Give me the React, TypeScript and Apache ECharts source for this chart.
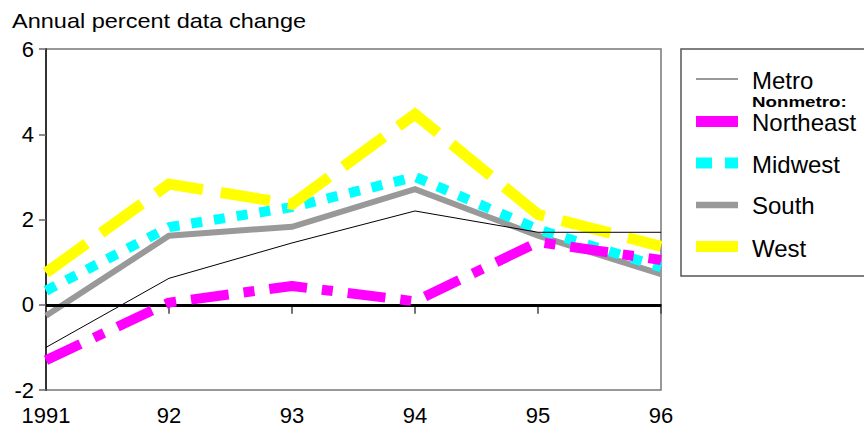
import React, { useEffect, useRef } from "react";
import * as echarts from "echarts";

const years = ["1991", "92", "93", "94", "95", "96"];
const metro = [-1.0, 0.62, 1.45, 2.2, 1.7, 1.7];
const northeast = [-1.3, 0.05, 0.44, 0.08, 1.47, 1.05];
const midwest = [0.33, 1.82, 2.29, 3.0, 1.77, 0.88];
const south = [-0.26, 1.62, 1.83, 2.71, 1.62, 0.72];
const west = [0.75, 2.83, 2.36, 4.47, 2.12, 1.37];
const yTicks = { min: -2, max: 6, interval: 2 };

const FONT = "Liberation Sans, Arial, sans-serif";

export default function App() {
  const ref = useRef<HTMLDivElement>(null);
  useEffect(() => {
    if (!ref.current) return;
    const chart = echarts.init(ref.current, null, { renderer: "svg" });
    const lx1 = 696, lx2 = 738, tx = 752;
    const legendItems = [
      { name: "Metro", y: 79, ty: 80, color: "#777", width: 1.5, dash: undefined as any },
      { name: "Northeast", y: 121.5, ty: 122, color: "#ff00ff", width: 11, dash: undefined },
      { name: "Midwest", y: 163, ty: 164, color: "#00ffff", width: 11, dash: [16, 13] },
      { name: "South", y: 205, ty: 205.5, color: "#999999", width: 6.5, dash: undefined },
      { name: "West", y: 246.5, ty: 248, color: "#ffff00", width: 11, dash: undefined },
    ];
    const graphics: any[] = [
      {
        type: "text",
        x: 12,
        y: 21,
        scaleX: 1.12,
        style: { text: "Annual percent data change", font: `21px ${FONT}`, fill: "#000", verticalAlign: "middle" },
      },
      {
        type: "rect",
        shape: { x: 681, y: 49, width: 200, height: 227 },
        style: { fill: "none", stroke: "#555", lineWidth: 1.5 },
      },
      {
        type: "text",
        x: tx,
        y: 102.5,
        scaleX: 1.25,
        style: { text: "Nonmetro:", font: `bold 15px ${FONT}`, fill: "#000", verticalAlign: "middle" },
      },
    ];
    legendItems.forEach((it) => {
      graphics.push({
        type: "line",
        shape: { x1: lx1, y1: it.y, x2: lx2, y2: it.y },
        style: { stroke: it.color, lineWidth: it.width, lineDash: it.dash, lineCap: "butt" },
      });
      graphics.push({
        type: "text",
        x: tx,
        y: it.ty,
        style: { text: it.name, font: `24px ${FONT}`, fill: "#000", verticalAlign: "middle" },
      });
    });

    chart.setOption({
      animation: false,
      backgroundColor: "#fff",
      grid: { left: 46, right: 203, top: 49, bottom: 37, show: true, borderColor: "#777", borderWidth: 1.5 },
      xAxis: {
        type: "category",
        data: years,
        boundaryGap: false,
        axisLine: { lineStyle: { color: "#333", width: 2 } },
        axisTick: { show: true, length: 9, lineStyle: { color: "#444", width: 1.5 } },
        axisLabel: { color: "#000", fontSize: 22, fontFamily: FONT, margin: 14 },
        splitLine: { show: false },
      },
      yAxis: {
        type: "value",
        min: yTicks.min,
        max: yTicks.max,
        interval: yTicks.interval,
        axisLine: { show: true, lineStyle: { color: "#333", width: 2 } },
        axisTick: { show: true, length: 7, lineStyle: { color: "#666", width: 1.5 } },
        axisLabel: { color: "#000", fontSize: 22, fontFamily: FONT, margin: 12 },
        splitLine: { show: false },
      },
      graphic: graphics,
      series: [
        {
          name: "Metro",
          type: "line",
          data: metro,
          symbol: "none",
          lineStyle: { color: "#000", width: 1 },
          z: 7,
          markLine: {
            silent: true,
            symbol: "none",
            label: { show: false },
            lineStyle: { color: "#000", width: 3, type: "solid" },
            data: [{ yAxis: 0 }],
          },
        },
        {
          name: "South",
          type: "line",
          data: south,
          symbol: "none",
          lineStyle: { color: "#999999", width: 6, cap: "butt", join: "miter" },
          z: 3,
        },
        {
          name: "Midwest",
          type: "line",
          data: midwest,
          symbol: "none",
          lineStyle: { color: "#00ffff", width: 10, type: [11, 12], cap: "butt" },
          z: 4,
        },
        {
          name: "West",
          type: "line",
          data: west,
          symbol: "none",
          lineStyle: { color: "#ffff00", width: 11, type: [50, 18], cap: "butt", join: "miter" },
          z: 5,
        },
        {
          name: "Northeast",
          type: "line",
          data: northeast,
          symbol: "none",
          lineStyle: { color: "#ff00ff", width: 10, type: [38, 15, 11, 15], cap: "butt" },
          z: 6,
        },
      ],
    });
    return () => chart.dispose();
  }, []);
  return <div ref={ref} style={{ width: 864, height: 427, position: "absolute", left: 0, top: 0 }} />;
}
